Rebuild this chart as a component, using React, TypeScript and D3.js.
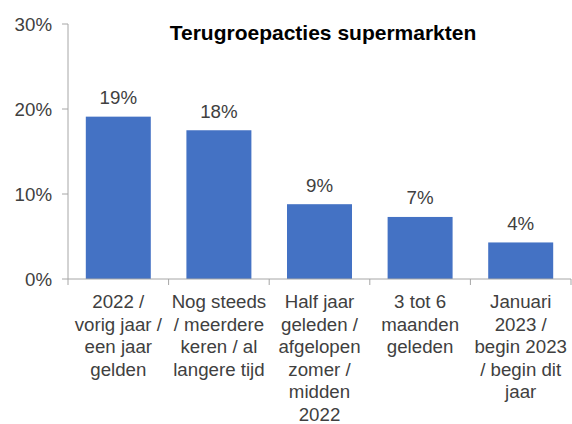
import React from "react";
import * as d3 from "d3";

const categories = ["c1", "c2", "c3", "c4", "c5"];
const categoryLines = [
  ["2022 /", "vorig jaar /", "een jaar", "gelden"],
  ["Nog steeds", "/ meerdere", "keren / al", "langere tijd"],
  ["Half jaar", "geleden /", "afgelopen", "zomer /", "midden", "2022"],
  ["3 tot 6", "maanden", "geleden"],
  ["Januari", "2023 /", "begin 2023", "/ begin dit", "jaar"],
];
const values = [19.1, 17.5, 8.8, 7.3, 4.3];
const yTicks = [0, 10, 20, 30];
const title = "Terugroepacties supermarkten";

export default function App() {
  const W = 572, H = 424;
  const x = d3.scaleBand<string>().domain(categories).range([68, 571]).paddingInner(0.354).paddingOuter(0.177);
  const y = d3.scaleLinear().domain([0, 30]).range([279, 24]);
  const font = "Arial, 'Liberation Sans', sans-serif";
  const textColor = "#404040";
  const axisColor = "#a6a6a6";
  const step = x.step();
  return (
    <svg width={W} height={H} style={{ position: "absolute", left: 0, top: 0, background: "#fff" }} fontFamily={font}>
      <text x={323} y={40} textAnchor="middle" fontSize={21} fontWeight="bold" fill="#000">{title}</text>
      {/* y axis */}
      <line x1={68} x2={68} y1={y(30)} y2={y(0)} stroke={axisColor} strokeWidth={1} />
      {yTicks.map((t) => (
        <g key={t}>
          <line x1={62} x2={68} y1={y(t)} y2={y(t)} stroke={axisColor} />
          <text x={52} y={y(t)} dy="0.35em" textAnchor="end" fontSize={18.7} fill={textColor}>{t}%</text>
        </g>
      ))}
      {/* bars */}
      {categories.map((c, i) => (
        <g key={c}>
          <rect x={x(c)} y={y(values[i])} width={x.bandwidth()} height={y(0) - y(values[i])} fill="#4472C4" />
          <text x={(x(c) as number) + x.bandwidth() / 2} y={y(values[i]) - 12.7} textAnchor="middle" fontSize={18.7} fill={textColor}>
            {Math.round(values[i])}%
          </text>
        </g>
      ))}
      {/* x axis */}
      <line x1={68} x2={571} y1={y(0)} y2={y(0)} stroke={axisColor} />
      {d3.range(categories.length + 1).map((k) => (
        <line key={k} x1={68 + k * step} x2={68 + k * step} y1={y(0)} y2={y(0) + 6} stroke={axisColor} />
      ))}
      {categories.map((c, i) => (
        <text key={c} textAnchor="middle" fontSize={18.7} fill={textColor}>
          {categoryLines[i].map((ln, j) => (
            <tspan key={j} x={(x(c) as number) + x.bandwidth() / 2} y={308 + j * 22.6}>{ln}</tspan>
          ))}
        </text>
      ))}
    </svg>
  );
}
